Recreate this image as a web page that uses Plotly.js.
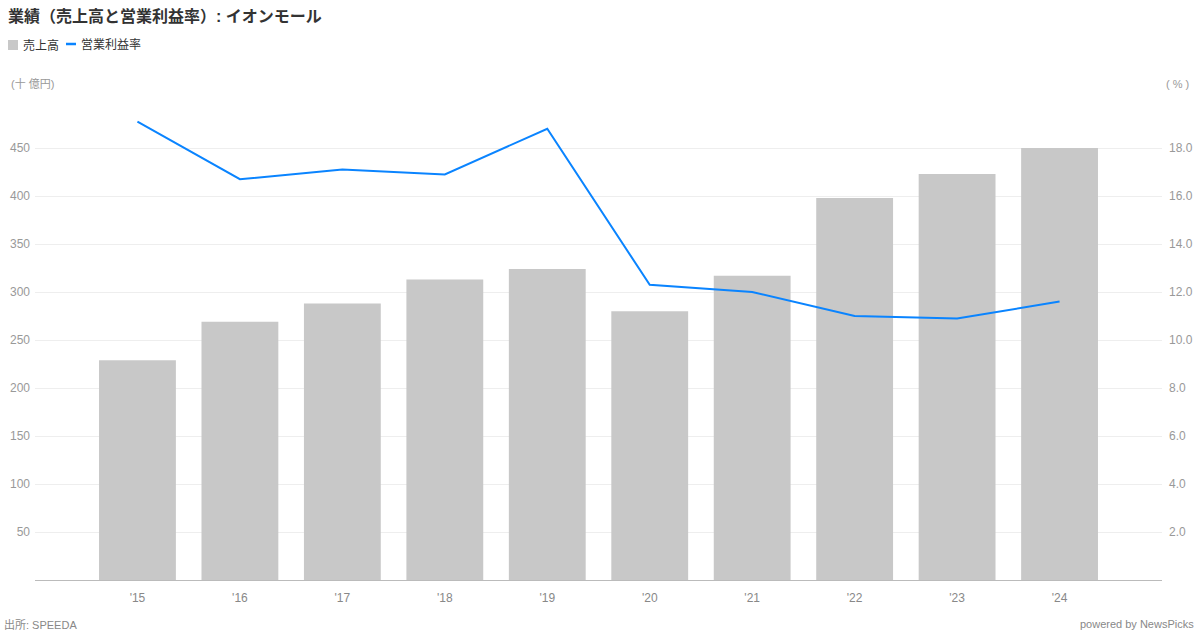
<!DOCTYPE html>
<html>
<head>
<meta charset="utf-8">
<script src="https://cdn.plot.ly/plotly-3.0.1.min.js"></script>
<style>html,body{margin:0;padding:0;background:#fff;}#chart{width:1200px;height:630px;}</style>
</head>
<body>
<div id="chart"></div>
<script>
const years = ["'15","'16","'17","'18","'19","'20","'21","'22","'23","'24"];
const sales = [229, 269, 288, 313, 324, 280, 317, 398, 423, 450];
const opMargin = [19.1, 16.7, 17.1, 16.9, 18.8, 12.3, 12.0, 11.0, 10.9, 11.6];
const leftTicks = [50, 100, 150, 200, 250, 300, 350, 400, 450];
const rightTicks = [2, 4, 6, 8, 10, 12, 14, 16, 18];

const FONT = "'Liberation Sans', Arial, 'Noto Sans CJK JP', sans-serif";
const xIdx = years.map((_, i) => i);

const L = 35, R = 38, W = 1200, H = 630, T = 100, B = 50;
const pw = W - L - R, ph = H - T - B;
const px = x => (x - L) / pw;
const py = y => (H - B - y) / ph;

const traces = [
  {type:'bar', x:xIdx, y:sales, name:'売上高', marker:{color:'#c8c8c8'}, width:0.75, yaxis:'y', hoverinfo:'skip'},
  {type:'scatter', mode:'lines', x:xIdx, y:opMargin, name:'営業利益率', line:{color:'#0a84ff', width:2}, yaxis:'y2', hoverinfo:'skip'}
];

const layout = {
  width: W, height: H,
  margin: {l:L, r:R, t:T, b:B},
  paper_bgcolor:'#fff', plot_bgcolor:'#fff',
  font:{family:FONT, color:'#999', size:12},
  showlegend:false,
  bargap:0.25,
  xaxis:{range:[-1,10], tickvals:xIdx, ticktext:years, showgrid:false, zeroline:false,
         showline:true, linecolor:'#bbb', linewidth:1, ticks:'', ticklabelstandoff:7,
         tickfont:{size:12, color:'#888'}, fixedrange:true},
  yaxis:{range:[0,500], tickvals:leftTicks, ticktext:leftTicks.map(String), gridcolor:'#eeeeee', gridwidth:1,
         zeroline:false, showline:false, ticks:'', tickfont:{size:12, color:'#999'}, ticklabelstandoff:4},
  yaxis2:{range:[0,20], overlaying:'y', side:'right', tickvals:rightTicks, ticktext:rightTicks.map(v=>v.toFixed(1)),
          showgrid:false, zeroline:false, showline:false, ticks:'', tickfont:{size:12, color:'#999'}, ticklabelstandoff:6},
  annotations:[
    {xref:'paper', yref:'paper', x:px(6), y:py(16), xanchor:'left', yanchor:'middle', showarrow:false,
     text:'<b>業績（売上高と営業利益率）: イオンモール</b>', font:{size:16, color:'#333', family:FONT}},
    {xref:'paper', yref:'paper', x:px(21), y:py(45), xanchor:'left', yanchor:'middle', showarrow:false,
     text:'売上高', font:{size:12, color:'#333', family:FONT}},
    {xref:'paper', yref:'paper', x:px(79), y:py(45), xanchor:'left', yanchor:'middle', showarrow:false,
     text:'営業利益率', font:{size:12, color:'#333', family:FONT}},
    {xref:'paper', yref:'paper', x:px(9), y:py(84), xanchor:'left', yanchor:'middle', showarrow:false,
     text:'(十 億円)', font:{size:11, color:'#999', family:FONT}},
    {xref:'paper', yref:'paper', x:px(1191), y:py(84), xanchor:'right', yanchor:'middle', showarrow:false,
     text:'( % )', font:{size:11, color:'#999', family:FONT}},
    {xref:'paper', yref:'paper', x:px(2), y:py(624), xanchor:'left', yanchor:'middle', showarrow:false,
     text:'出所: SPEEDA', font:{size:11, color:'#888', family:FONT}},
    {xref:'paper', yref:'paper', x:px(1196), y:py(624), xanchor:'right', yanchor:'middle', showarrow:false,
     text:'powered by NewsPicks', font:{size:11, color:'#888', family:FONT}}
  ],
  shapes:[
    {type:'rect', xref:'paper', yref:'paper', x0:px(8), x1:px(18), y0:py(50), y1:py(40), fillcolor:'#c8c8c8', line:{width:0}},
    {type:'line', xref:'paper', yref:'paper', x0:px(66), x1:px(76), y0:py(44), y1:py(44), line:{color:'#0a84ff', width:2.5}}
  ]
};

Plotly.newPlot('chart', traces, layout, {displayModeBar:false, staticPlot:true});
</script>
</body>
</html>
